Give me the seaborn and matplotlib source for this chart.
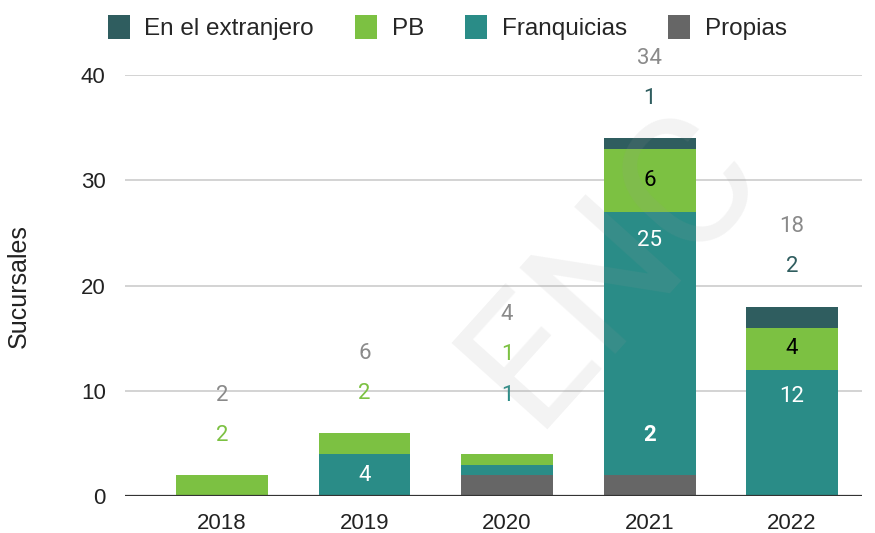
import pandas as pd
import numpy as np
import seaborn as sns
import matplotlib.pyplot as plt
from matplotlib.patches import Patch

# Data
years = ['2018', '2019', '2020', '2021', '2022']
propias = [0, 0, 2, 2, 0]
franquicias = [0, 4, 1, 25, 12]
pb = [2, 2, 1, 6, 4]
extranjero = [0, 0, 0, 1, 2]

# colours
c_ext = '#2f5d5f'
c_pb = '#7cc142'
c_fra = '#2a8c87'
c_pro = '#666666'
c_tot = '#8a8a8a'

df = pd.DataFrame({'Año': years, 'Propias': propias, 'Franquicias': franquicias,
                   'PB': pb, 'En el extranjero': extranjero})
df['c1'] = df['Propias']
df['c2'] = df['c1'] + df['Franquicias']
df['c3'] = df['c2'] + df['PB']
df['c4'] = df['c3'] + df['En el extranjero']

sns.set_theme(style='white')
plt.rcParams['font.family'] = ['Liberation Sans', 'DejaVu Sans']
lab_font = ['Roboto', 'DejaVu Sans']

fig = plt.figure(figsize=(8.75, 5.33), dpi=100)
ax = fig.add_axes([0.143, 0.069, 0.842, 0.790])

# stacked bars by overlaying cumulative totals
w = 0.645
for col, color in [('c4', c_ext), ('c3', c_pb), ('c2', c_fra), ('c1', c_pro)]:
    sns.barplot(data=df, x='Año', y=col, color=color, width=w, ax=ax,
                saturation=1, linewidth=0, zorder=3)

ax.set_xlim(-0.68, 4.49)
ax.set_ylim(0, 40)
ax.set_yticks([0, 10, 20, 30, 40])
ax.yaxis.grid(True, color='#cccccc', lw=1.2, zorder=0)
ax.axhline(0, color='#333333', lw=1.6, zorder=4)
for s in ax.spines.values():
    s.set_visible(False)
ax.tick_params(axis='both', length=0, labelsize=16, colors='#222222')
ax.tick_params(axis='x', pad=12)
ax.tick_params(axis='y', pad=14)
ax.set_xlabel('')
ax.set_ylabel('Sucursales', fontsize=18, color='#222222', labelpad=36)

fs = 16
# labels stacked above bar tops (pixel offsets)
above = {
    0: [('PB', 40, c_pb)],
    1: [('PB', 40, c_pb)],
    2: [('Franquicias', 59, c_fra), ('PB', 100, c_pb)],
    3: [('En el extranjero', 40, c_ext)],
    4: [('En el extranjero', 40, c_ext)],
}
tot_off = {0: 80, 1: 80, 2: 140, 3: 80, 4: 80}
for i, row in df.iterrows():
    top = row['c4']
    for col, off, color in above[i]:
        ax.annotate(str(row[col]), (i, top), xytext=(0, off), textcoords='offset pixels',
                    ha='center', va='center', fontsize=fs, color=color, zorder=6,
                    family=lab_font)
    ax.annotate(str(top), (i, top), xytext=(0, tot_off[i]), textcoords='offset pixels',
                ha='center', va='center', fontsize=fs, color=c_tot, zorder=6,
                family=lab_font)

# labels inside segments
ax.text(1, df.loc[1, 'c2'] / 2, str(franquicias[1]), ha='center', va='center',
        fontsize=fs, color='white', zorder=6, family=lab_font)
ax.text(3, (df.loc[3, 'c2'] + df.loc[3, 'c3']) / 2, str(pb[3]), ha='center', va='center',
        fontsize=fs, color='black', zorder=6, family=lab_font)
ax.annotate(str(franquicias[3]), (3, df.loc[3, 'c2']), xytext=(0, -28), textcoords='offset pixels',
            ha='center', va='center', fontsize=fs, color='white', zorder=6, family=lab_font)
ax.annotate(str(propias[3]), (3, df.loc[3, 'c1']), xytext=(0, 40), textcoords='offset pixels',
            ha='center', va='center', fontsize=fs, color='white', fontweight='bold', zorder=6,
            family=lab_font)
ax.text(4, (df.loc[4, 'c2'] + df.loc[4, 'c3']) / 2, str(pb[4]), ha='center', va='center',
        fontsize=fs, color='black', zorder=6, family=lab_font)
ax.annotate(str(franquicias[4]), (4, df.loc[4, 'c2']), xytext=(0, -27), textcoords='offset pixels',
            ha='center', va='center', fontsize=fs, color='white', zorder=6, family=lab_font)

# watermark
fig.text(0.70, 0.50, 'ENC', fontsize=130, color='#999999', alpha=0.12,
         rotation=48, ha='center', va='center', family=lab_font, zorder=10)

handles = [Patch(facecolor=c, edgecolor='none') for c in [c_ext, c_pb, c_fra, c_pro]]
fig.legend(handles, ['En el extranjero', 'PB', 'Franquicias', 'Propias'],
           loc='center', bbox_to_anchor=(0.511, 0.948), ncol=4, frameon=False,
           fontsize=17.5, handlelength=0.9, handleheight=1.1, columnspacing=1.7,
           handletextpad=0.6)

fig.savefig('out.png', dpi=100)
